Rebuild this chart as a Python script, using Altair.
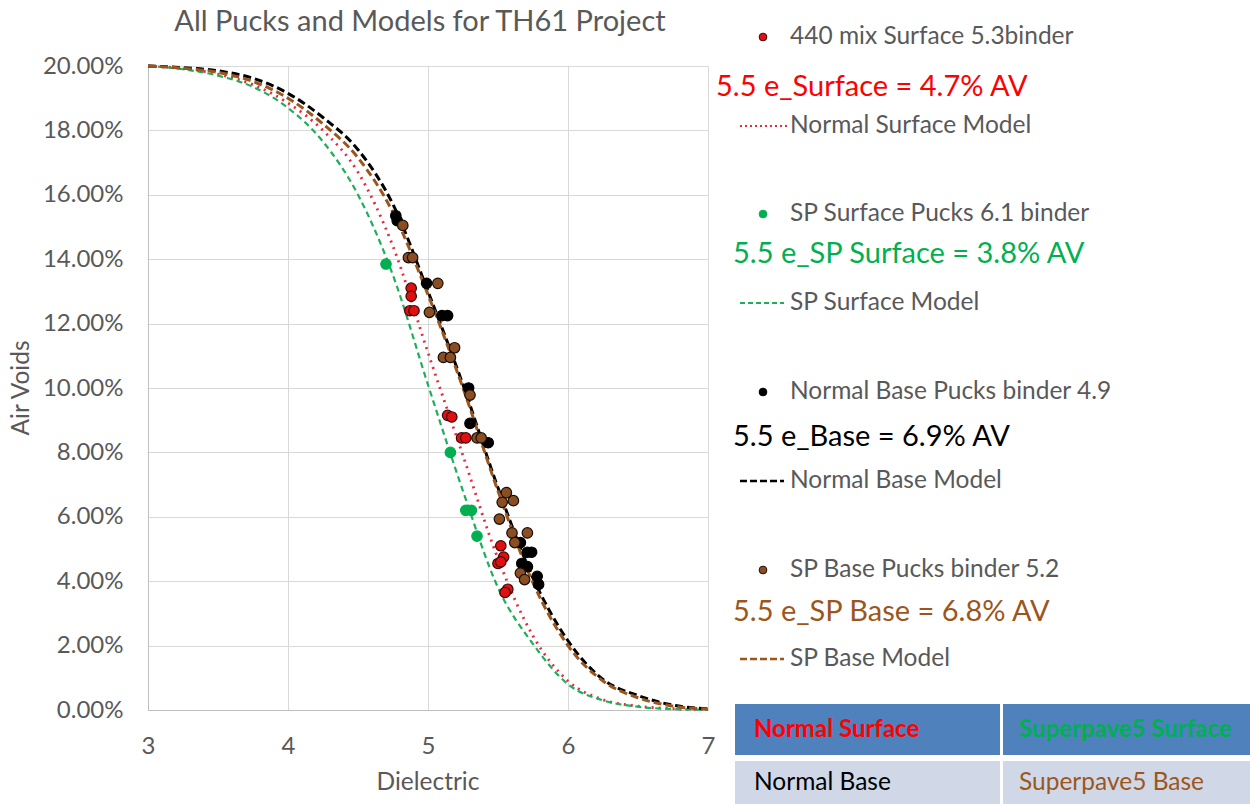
import altair as alt
import pandas as pd

# ---- model curves: dielectric vs air voids (%) ----
model_e = [3.00, 3.25, 3.50, 3.75, 4.00, 4.25, 4.50, 4.75, 5.00, 5.25, 5.50, 5.75, 6.00, 6.25, 6.50, 6.75, 7.00]
normal_surface_model = [20.0, 19.92, 19.75, 19.42, 18.85, 18.0, 16.7, 14.4, 11.1, 7.9, 4.7, 2.3, 0.9, 0.32, 0.12, 0.04, 0.01]
sp_surface_model = [20.0, 19.9, 19.7, 19.35, 18.7, 17.65, 16.0, 13.5, 10.1, 6.8, 3.8, 2.05, 0.8, 0.3, 0.1, 0.03, 0.01]
normal_base_model = [20.0, 19.95, 19.85, 19.62, 19.15, 18.4, 17.4, 15.7, 13.0, 10.1, 6.9, 4.1, 2.15, 0.95, 0.45, 0.15, 0.04]
sp_base_model = [20.0, 19.93, 19.8, 19.52, 19.0, 18.2, 17.15, 15.45, 12.9, 10.0, 6.8, 3.95, 2.0, 0.9, 0.38, 0.12, 0.03]

# ---- measured pucks ----
surface_440_e = [4.88, 4.88, 4.87, 4.90, 5.14, 5.17, 5.24, 5.27, 5.52, 5.54, 5.50, 5.52, 5.57, 5.55]
surface_440_av = [13.1, 12.85, 12.4, 12.4, 9.15, 9.1, 8.45, 8.45, 5.1, 4.75, 4.55, 4.6, 3.75, 3.65]

sp_surface_e = [4.70, 5.16, 5.27, 5.31, 5.35]
sp_surface_av = [13.85, 8.0, 6.2, 6.2, 5.4]

normal_base_e = [4.77, 4.78, 4.99, 5.10, 5.14, 5.29, 5.30, 5.43, 5.66, 5.71, 5.74, 5.67, 5.71, 5.78, 5.79]
normal_base_av = [15.35, 15.2, 13.25, 12.25, 12.25, 10.0, 8.9, 8.3, 5.2, 4.9, 4.9, 4.55, 4.45, 4.15, 3.9]

sp_base_e = [4.82, 4.86, 4.89, 5.07, 5.01, 5.19, 5.11, 5.16, 5.30, 5.35, 5.38, 5.56, 5.53, 5.61, 5.51,
             5.60, 5.71, 5.62, 5.66, 5.69]
sp_base_av = [15.05, 14.05, 14.05, 13.25, 12.35, 11.25, 10.95, 10.95, 9.78, 8.45, 8.45, 6.75, 6.45, 6.5, 5.93,
              5.5, 5.5, 5.2, 4.25, 4.05]

series_names = ["440 mix Surface 5.3binder", "SP Surface Pucks 6.1 binder",
                "Normal Base Pucks binder 4.9", "SP Base Pucks binder 5.2"]
model_names = ["Normal Surface Model", "SP Surface Model", "Normal Base Model", "SP Base Model"]
callouts = ["5.5 e_Surface = 4.7% AV", "5.5 e_SP Surface = 3.8% AV",
            "5.5 e_Base = 6.9% AV", "5.5 e_SP Base = 6.8% AV"]
table_cells = [["Normal Surface", "Superpave5 Surface"], ["Normal Base", "Superpave5 Base"]]

RED, GREEN, BLACK, BROWN = "#ff0000", "#00b050", "#000000", "#9c561c"
FILL = ["#e01010", "#00b050", "#000000", "#8a4e22"]
GRAY = "#595959"
FONT = "Lato"

W, H = 560, 644

x_scale = alt.Scale(domain=[3, 7], nice=False)
y_scale = alt.Scale(domain=[0, 20], nice=False)

pts = pd.concat([
    pd.DataFrame({"e": surface_440_e, "av": surface_440_av, "s": series_names[0]}),
    pd.DataFrame({"e": sp_surface_e, "av": sp_surface_av, "s": series_names[1]}),
    pd.DataFrame({"e": normal_base_e, "av": normal_base_av, "s": series_names[2]}),
    pd.DataFrame({"e": sp_base_e, "av": sp_base_av, "s": series_names[3]}),
])

x_enc = alt.X("e:Q", scale=x_scale, title=None,
              axis=alt.Axis(values=[3, 4, 5, 6, 7], ticks=False, labelPadding=24, labelFontSize=24,
                            labelFlush=False, labelColor=GRAY, labelFont=FONT,
                            gridColor="#d9d9d9", domainColor="#bfbfbf"))
y_enc = alt.Y("av:Q", scale=y_scale, title=None,
              axis=alt.Axis(values=list(range(0, 21, 2)), ticks=False, labelPadding=25, labelFontSize=24,
                            labelFlush=False, labelColor=GRAY, labelFont=FONT,
                            gridColor="#d9d9d9", domainColor="#bfbfbf",
                            labelExpr="format(datum.value, '.2f') + '%'"))


def model_line(values, color, dash, width):
    df = pd.DataFrame({"e": model_e, "av": values})
    return alt.Chart(df).mark_line(color=color, strokeDash=dash, strokeWidth=width,
                                   interpolate="monotone").encode(x=x_enc, y=y_enc)


lines = [
    model_line(normal_surface_model, "#e8283c", [2, 5], 2.8),
    model_line(sp_surface_model, "#1fae5a", [6, 4], 2.2),
    model_line(normal_base_model, BLACK, [8, 4], 3),
    model_line(sp_base_model, BROWN, [8, 4], 3),
]

point_layer = alt.Chart(pts).mark_point(filled=True, size=110, strokeWidth=1.2, opacity=1).encode(
    x=x_enc, y=y_enc,
    fill=alt.Fill("s:N", scale=alt.Scale(domain=series_names, range=FILL), legend=None),
    stroke=alt.Stroke("s:N", scale=alt.Scale(domain=series_names,
                                             range=["#3a0a0a", "#00b050", "#000000", "#1a0d05"]), legend=None),
)

one = pd.DataFrame({"k": [0]})


def label(txt, x, y, color=GRAY, size=24.5, align="left", weight="normal", angle=0):
    return alt.Chart(one).mark_text(text=txt, align=align, baseline="middle", font=FONT, fontSize=size,
                                    color=color, fontWeight=weight, angle=angle).encode(
        x=alt.value(x), y=alt.value(y))


def dot(x, y, fill, stroke):
    return alt.Chart(one).mark_point(filled=True, size=60, fill=fill, stroke=stroke, strokeWidth=1,
                                     opacity=1).encode(x=alt.value(x), y=alt.value(y))


def sample(x1, x2, y, color, dash, width):
    return alt.Chart(one).mark_rule(color=color, strokeDash=dash, strokeWidth=width).encode(
        x=alt.value(x1), x2=alt.value(x2), y=alt.value(y))


def box(x1, x2, y1, y2, color):
    return alt.Chart(one).mark_rect(color=color).encode(
        x=alt.value(x1), x2=alt.value(x2), y=alt.value(y1), y2=alt.value(y2))


decor = [
    label("All Pucks and Models for TH61 Project", 272, -44, size=29, align="center"),
    label("Dielectric", 280, 717, size=24.5, align="center"),
    label("Air Voids", -126, 322, size=24.5, align="center", angle=270),
    # legend block
    dot(615, -29, FILL[0], "#3a0a0a"), label(series_names[0], 642, -29),
    label(callouts[0], 568, 21, color=RED, size=29),
    sample(592, 640, 60, "#e8283c", [2, 3], 2), label(model_names[0], 642, 60),
    dot(615, 148, FILL[1], FILL[1]), label(series_names[1], 642, 148),
    label(callouts[1], 585, 188, color=GREEN, size=29),
    sample(592, 636, 237, "#1fae5a", [5, 3], 2), label(model_names[1], 642, 237),
    dot(615, 326, FILL[2], BLACK), label(series_names[2], 642, 326),
    label(callouts[2], 585, 371, color=BLACK, size=29),
    sample(592, 636, 415, BLACK, [7, 3], 2.5), label(model_names[2], 642, 415),
    dot(615, 504, FILL[3], "#1a0d05"), label(series_names[3], 642, 504),
    label(callouts[3], 585, 546, color=BROWN, size=29),
    sample(592, 636, 593, BROWN, [7, 3], 2.5), label(model_names[3], 642, 593),
    # colour key table
    box(587, 852, 638, 689, "#4f81bd"), box(855, 1102, 638, 689, "#4f81bd"),
    box(587, 852, 695, 738, "#d0d8e8"), box(855, 1102, 695, 738, "#d0d8e8"),
    label(table_cells[0][0], 606, 664, color=RED, size=24, weight="bold"),
    label(table_cells[0][1], 871, 664, color=GREEN, size=24, weight="bold"),
    label(table_cells[1][0], 606, 717, color=BLACK, size=24.5),
    label(table_cells[1][1], 871, 717, color=BROWN, size=24.5),
]

chart = alt.layer(*lines, point_layer, *decor).properties(
    width=W, height=H,
    padding={"left": 148, "top": 66, "right": 542, "bottom": 94},
    autosize=alt.AutoSizeParams(type="none"),
    background="white",
).configure_view(stroke=None)

chart.save("out.html", embed_options={"renderer": "svg", "actions": False})
